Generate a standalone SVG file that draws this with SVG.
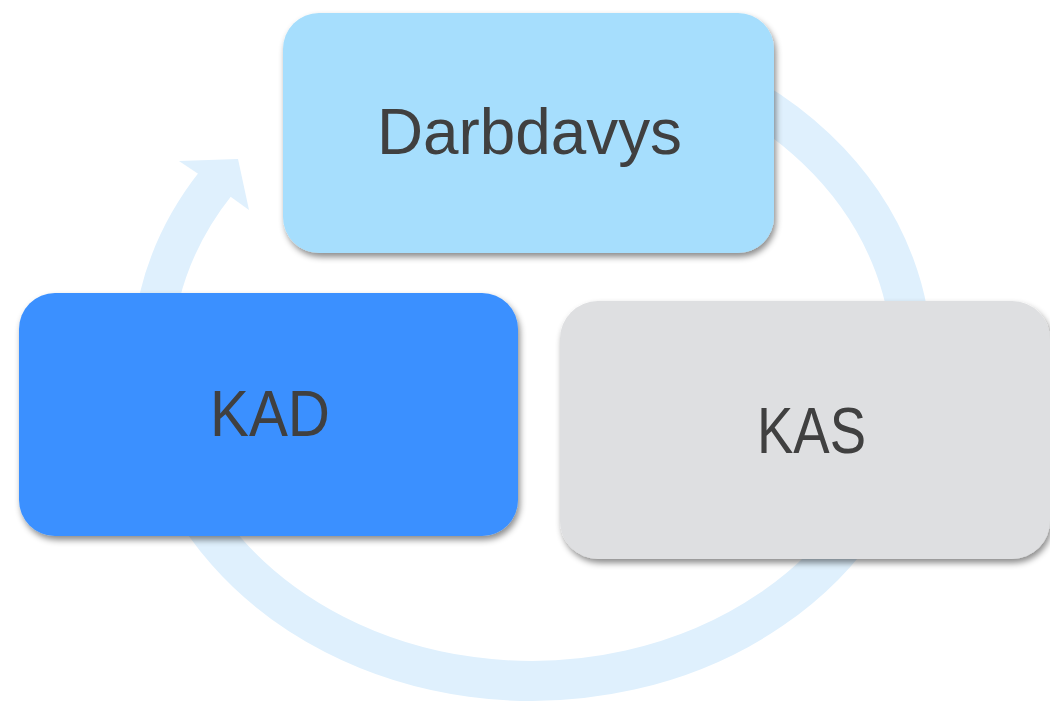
<svg xmlns="http://www.w3.org/2000/svg" width="1050" height="702" viewBox="0 0 1050 702">
  <defs>
    <filter id="shadow" x="-10%" y="-10%" width="125%" height="130%">
      <feDropShadow dx="2" dy="4" stdDeviation="3" flood-color="#000" flood-opacity="0.45"/>
    </filter>
  </defs>
  <style>
    .ring { fill: none; stroke: #DFF0FD; stroke-width: 40; }
    .head { fill: #DFF0FD; }
    .box { filter: url(#shadow); }
    .label { font-family: "Liberation Sans", Arial, sans-serif; font-size: 64px; fill: #404040; text-anchor: middle; }
  </style>
  <rect width="1050" height="702" fill="#FFFFFF"/>
  <g id="connectors">
    <path class="ring" d="M 700 74 A 380 320 0 1 1 216 183"/>
    <polygon class="head" points="197,173 179,161 238,159 249,210 231,197"/>
  </g>
  <g id="node-darbdavys">
    <rect class="box" x="283" y="13" width="491" height="240" rx="36" ry="36" fill="#A6DEFD"/>
    <text class="label" x="529.5" y="154" textLength="305" lengthAdjust="spacingAndGlyphs">Darbdavys</text>
  </g>
  <g id="node-kad">
    <rect class="box" x="19" y="293" width="499" height="243" rx="36" ry="36" fill="#3A90FF"/>
    <text class="label" x="270" y="436" textLength="120" lengthAdjust="spacingAndGlyphs">KAD</text>
  </g>
  <g id="node-kas">
    <rect class="box" x="560" y="301" width="490" height="258" rx="38" ry="38" fill="#DEDFE1"/>
    <text class="label" x="811.5" y="453" textLength="109" lengthAdjust="spacingAndGlyphs">KAS</text>
  </g>
</svg>
